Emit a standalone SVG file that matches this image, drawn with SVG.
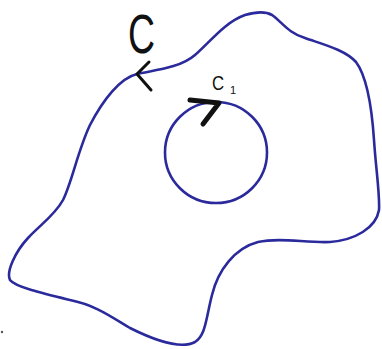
<svg xmlns="http://www.w3.org/2000/svg" width="382" height="349" viewBox="0 0 382 349">
<style>
.curve{fill:none;stroke:#2b2a9c;stroke-width:2.6;stroke-linecap:round;stroke-linejoin:round}
.arrow{fill:none;stroke:#111;stroke-linecap:round;stroke-linejoin:round}
.lbl{font-family:"Liberation Sans","DejaVu Sans",sans-serif;fill:#111}
</style>
<rect width="382" height="349" fill="#fff"/>
<g id="curve-C">
<path class="curve" d="M 137 74 C 155 70, 180 68, 195 55 C 210 42, 225 22, 245 15 C 255 12, 265 11, 272 15 C 282 22, 288 33, 305 38 C 325 45, 345 50, 356 62 C 368 78, 372 110, 374 140 C 376 170, 380 195, 379 210 C 376 228, 355 240, 330 242 C 305 243, 280 237, 258 242 C 235 248, 218 270, 212 295 C 206 318, 206 335, 195 342 C 180 350, 150 338, 130 328 C 110 316, 95 305, 70 300 C 45 294, 15 287, 10 280 C 6 272, 15 252, 28 238 C 40 225, 55 215, 63 200 C 72 182, 78 150, 90 125 C 103 100, 120 78, 137 74 Z"/>
<polyline class="arrow" stroke-width="3" points="149,62 137,74 151,90"/>
<text class="lbl" transform="translate(128,53) scale(0.68,1)" font-size="55">C</text>
</g>
<g id="curve-C1">
<ellipse class="curve" cx="216" cy="152.5" rx="51" ry="50.5"/>
<polyline class="arrow" stroke-width="5" points="190,100 219,103 203,124"/>
<text class="lbl" x="0" y="0" transform="translate(212,90) scale(0.8,1)" font-size="21">C</text>
<text class="lbl" x="230" y="94" font-size="11">1</text>
</g>
<circle cx="2" cy="332" r="1.2" fill="#555"/>
</svg>
